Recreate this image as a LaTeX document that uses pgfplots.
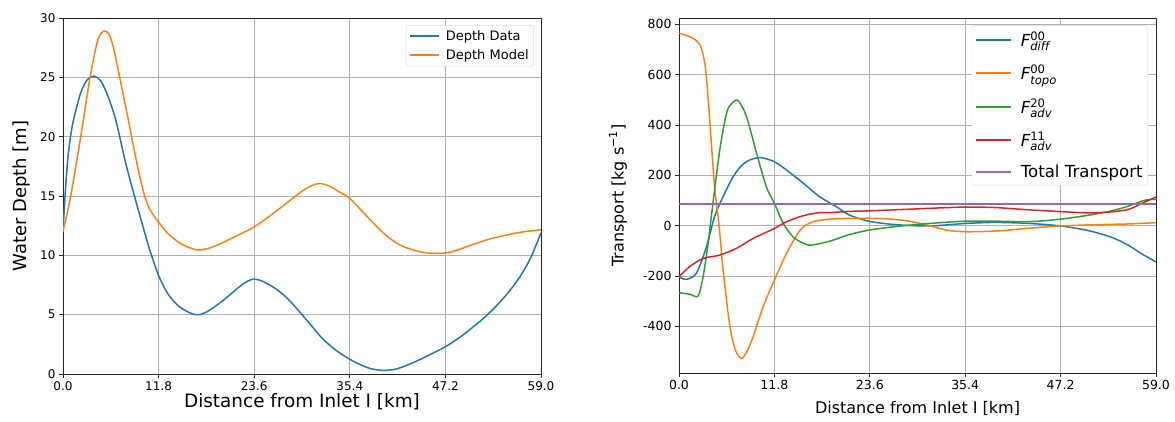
\documentclass[border=0pt]{standalone}
\usepackage{pgfplots}
\pgfplotsset{compat=1.18}
\usepackage{fontspec}
\setmainfont{DejaVu Sans}
\definecolor{mblue}{HTML}{1F77B4}
\definecolor{morange}{HTML}{FF7F0E}
\definecolor{mgreen}{HTML}{2CA02C}
\definecolor{mred}{HTML}{D62728}
\definecolor{mpurple}{HTML}{9467BD}
\definecolor{mgrid}{HTML}{B0B0B0}
\newcommand{\fs}[1]{\fontsize{#1}{#1}\selectfont}
\pgfplotsset{
  common/.style={
    scale only axis,
    anchor=south west,
    xmin=0, xmax=59,
    xtick={0,11.8,23.6,35.4,47.2,59},
    xticklabels={0.0,11.8,23.6,35.4,47.2,59.0},
    grid=major,
    grid style={mgrid, line width=0.8pt},
    axis line style={black!85, line width=0.8pt},
    tick align=outside,
    tick pos=left,
    major tick length=4pt,
    tick style={black!85, line width=0.8pt},
    /pgf/number format/assume math mode=true,
    legend cell align=left,
    every axis plot/.append style={line width=1.5pt, smooth},
  }
}
\begin{document}
\begin{tikzpicture}
\useasboundingbox (0,0) rectangle (1175pt,422pt);
\begin{axis}[common,
  at={(63pt,48pt)}, width=478pt, height=356pt,
  ymin=0, ymax=30, ytick={0,5,10,15,20,25,30},
  ticklabel style={font=\fs{12}},
  xlabel={Distance from Inlet I [km]},
  ylabel={Water Depth [m]},
  xlabel style={font=\fs{18.4}, at={(axis description cs:0.5,-0.078)}, anchor=center},
  ylabel style={font=\fs{18}, at={(axis description cs:-0.087,0.5)}, anchor=center},
  legend style={at={(axis description cs:0.985,0.98)}, anchor=north east,
    font=\fs{13}, draw=black!15, rounded corners=2pt, fill=white,
    inner xsep=3pt, inner ysep=3pt, row sep=4pt,
    /tikz/every odd column/.append style={column sep=4pt}},
  legend image code/.code={\draw[line width=1.8pt,#1] (0pt,0pt) -- (29pt,0pt);},
]
\addplot[mblue] coordinates {
(0,12.0) (0.3,15.5) (0.6,18.2) (1.0,20.3) (1.36,21.6) (2.19,23.7) (3.0,24.8)
(3.84,25.1) (4.66,24.7) (5.5,23.5) (6.3,21.9) (6.8,20.6) (7.8,17.6) (8.9,14.8)
(9.8,12.6) (10.64,10.6) (11.8,8.3) (13,6.7) (14.5,5.6) (16.3,5.0) (17.5,5.15)
(19,5.8) (20.3,6.5) (21.5,7.2) (22.6,7.75) (23.5,8.0) (24.5,7.85) (26,7.3)
(27.5,6.5) (29,5.4) (30.5,4.2) (32,3.0) (33.5,2.1) (35,1.4) (36.5,0.85)
(38,0.45) (39.5,0.3) (41,0.4) (42.5,0.75) (44,1.2) (45.5,1.7) (47.2,2.3)
(49,3.1) (50.5,3.9) (52,4.75) (53.5,5.75) (55,6.9) (56.5,8.3) (57.8,9.9) (59,11.9)
};
\addlegendentry{Depth Data}
\addplot[morange] coordinates {
(0,12.0) (0.95,15.0) (2.19,20.0) (3.34,25.0) (4.2,27.9) (4.7,28.7) (5.2,28.9)
(5.7,28.6) (6.2,27.6) (6.7,26.0) (7.6,23.0) (8.5,19.9) (9.3,17.2) (10.0,15.2)
(10.7,13.9) (11.8,12.8) (13,11.8) (14.5,11.0) (15.8,10.6) (16.7,10.45) (18,10.6)
(19.5,11.0) (21,11.5) (22.5,12.0) (23.6,12.4) (25.5,13.3) (27.6,14.4) (29.5,15.4)
(30.8,15.9) (31.8,16.05) (33,15.8) (34.2,15.3) (35.4,14.8) (37.5,13.3) (39.6,11.85)
(41.5,10.9) (43.5,10.4) (45,10.2) (46.6,10.17) (48,10.3) (49.5,10.65) (51,11.0)
(52.8,11.4) (55,11.75) (57,12.0) (59,12.15)
};
\addlegendentry{Depth Model}
\end{axis}
\begin{axis}[common,
  at={(679pt,49pt)}, width=477pt, height=355pt,
  ymin=-585, ymax=825, ytick={-400,-200,0,200,400,600,800},
  yticklabels={-400,-200,0,200,400,600,800},
  ticklabel style={font=\fs{12.5}},
  xlabel={Distance from Inlet I [km]},
  ylabel={Transport [kg s\textsuperscript{−1}]},
  xlabel style={font=\fs{16}, at={(axis description cs:0.5,-0.101)}, anchor=center},
  ylabel style={font=\fs{16}, at={(axis description cs:-0.128,0.5)}, anchor=center},
  legend style={at={(axis description cs:0.983,0.979)}, anchor=north east,
    font=\fs{16.6}, draw=black!15, rounded corners=2pt, fill=white,
    inner xsep=3pt, inner ysep=4pt, row sep=13pt,
    /tikz/every odd column/.append style={column sep=7pt}},
  legend image code/.code={\draw[line width=1.8pt,#1] (0pt,0pt) -- (35pt,0pt);},
]
\addplot[mblue] coordinates {
(0,-203) (0.9,-213) (2.15,-189) (3.4,-83) (4.4,36) (5.45,115) (6.7,195) (7.9,244)
(9.0,264) (10.2,270) (11.8,254) (13.3,221) (15.4,168) (17.4,115) (19.5,75) (21.1,42)
(23.6,17) (26.9,4) (31,-1) (35.4,9) (39.2,13) (43.3,9) (47.2,-1) (50.7,-20)
(53.5,-46) (55.6,-78) (57.2,-111) (59,-144)
};
\addlegendentry{$\mathit{F}^{\mathrm{00}}_{\mathit{diff}}$}
\addplot[morange] coordinates {
(0,764) (0.8,757) (1.74,744) (2.3,730) (2.77,705) (3.3,619) (3.8,420) (4.4,155)
(4.96,0) (5.45,-176) (6.3,-401) (7.0,-495) (7.73,-527) (8.4,-500) (9.17,-441)
(10.4,-322) (11.8,-216) (13.3,-110) (15.0,-17) (16.6,16) (18.7,26) (21.1,29)
(24.8,29) (28.1,20) (31.0,0) (33.0,-17) (35.4,-24) (39.2,-21) (43.3,-10)
(47.2,-1) (51.5,4) (55.6,7) (59,12)
};
\addlegendentry{$\mathit{F}^{\mathrm{00}}_{\mathit{topo}}$}
\addplot[mgreen] coordinates {
(0,-266) (1.32,-272) (2.36,-279) (2.98,-203) (3.6,-70) (4.2,89) (5.04,300)
(5.87,446) (6.5,485) (7.3,497) (8.35,433) (9.6,287) (10.8,155) (11.8,89)
(12.9,9) (14.1,-44) (15.4,-70) (16.4,-77) (18.7,-61) (21.1,-35) (23.6,-17)
(26.9,-3) (31,9) (35.4,18) (39.2,18) (43.3,16) (47.2,26) (50.7,42) (53.5,59)
(55.6,78) (57.6,101) (59,105)
};
\addlegendentry{$\mathit{F}^{\mathrm{20}}_{\mathit{adv}}$}
\addplot[mred] coordinates {
(0,-203) (1.3,-163) (3,-130) (5,-117) (7.1,-90) (9.2,-50) (11.8,-11) (13.3,16)
(15.4,40) (17.4,52) (18.7,52) (21.1,57) (23.6,59) (31,69) (35.4,74) (39.2,72)
(43.3,63) (47.2,56) (50.7,51) (53.5,55) (55.6,65) (57.2,88) (59,114)
};
\addlegendentry{$\mathit{F}^{\mathrm{11}}_{\mathit{adv}}$}
\addplot[mpurple] coordinates {(0,86) (59,86)};
\addlegendentry{Total Transport}
\end{axis}
\end{tikzpicture}
\end{document}
